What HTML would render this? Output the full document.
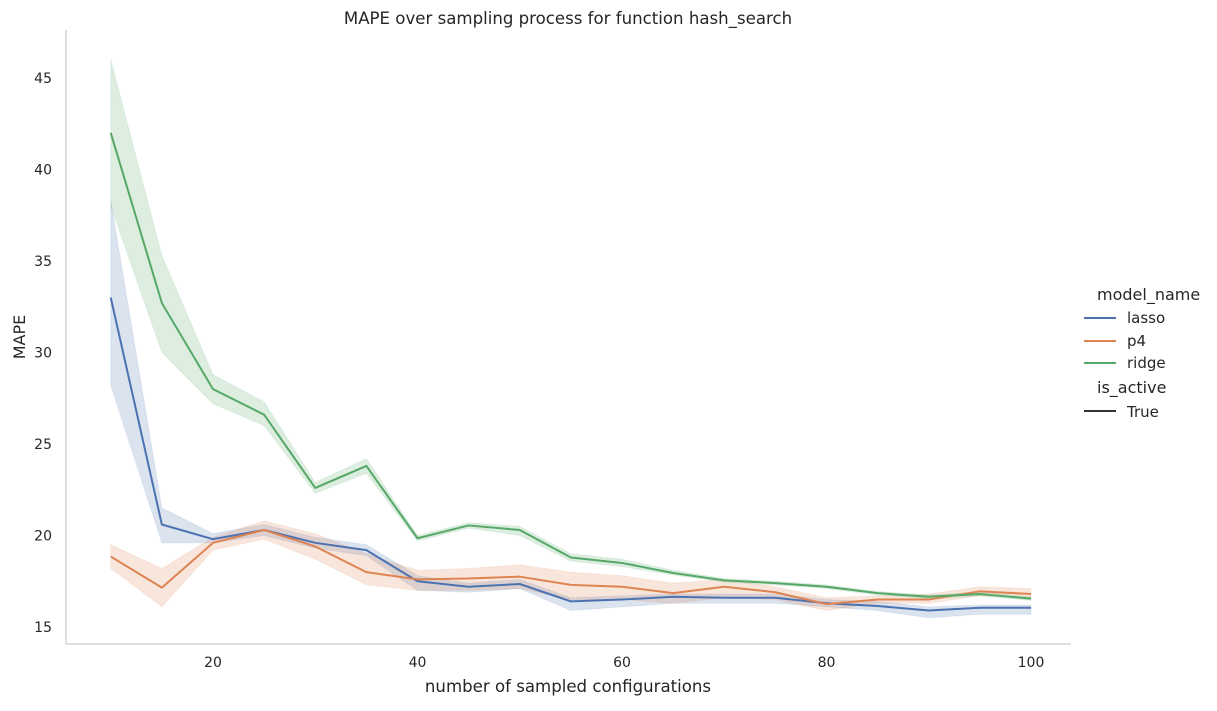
<!DOCTYPE html>
<html><head><meta charset="utf-8"><style>
body{margin:0;background:#fff;font-family:"Liberation Sans","DejaVu Sans",sans-serif;}
svg text{font-family:"DejaVu Sans","Liberation Sans",sans-serif;fill:#262626;}
</style></head><body>
<svg id="chart" width="1217" height="706">
<text x="568" y="24" text-anchor="middle" font-size="16.6">MAPE over sampling process for function hash_search</text>
<line x1="66" y1="30" x2="66" y2="644" stroke="#cccccc" stroke-width="1.3"/>
<line x1="66" y1="644" x2="1071" y2="644" stroke="#cccccc" stroke-width="1.3"/>
<g id="yticks"></g><g id="xticks"></g><g id="bands"></g><g id="lines"></g>
<text x="568" y="692" text-anchor="middle" font-size="16.6">number of sampled configurations</text>
<text transform="translate(25,337) rotate(-90)" text-anchor="middle" font-size="16">MAPE</text>
<g font-size="15">
<text x="1097" y="300" font-size="16">model_name</text>
<line x1="1084" y1="318" x2="1116" y2="318" stroke="#4c72b0" stroke-width="2"/>
<text x="1127" y="323">lasso</text>
<line x1="1084" y1="341" x2="1116" y2="341" stroke="#dd8452" stroke-width="2"/>
<text x="1127" y="346">p4</text>
<line x1="1084" y1="363" x2="1116" y2="363" stroke="#55a868" stroke-width="2"/>
<text x="1127" y="368">ridge</text>
<text x="1097" y="393" font-size="16">is_active</text>
<line x1="1084" y1="411" x2="1116" y2="411" stroke="#333" stroke-width="2"/>
<text x="1127" y="417">True</text>
</g>
</svg>
<script>
const xs=[10,15,20,25,30,35,40,45,50,55,60,65,70,75,80,85,90,95,100];
const xTickVals=[20,40,60,80,100];
const yTickVals=[15,20,25,30,35,40,45];
const lassoMean=[33.0,20.6,19.8,20.3,19.6,19.2,17.5,17.2,17.35,16.4,16.5,16.65,16.6,16.6,16.3,16.15,15.9,16.05,16.05];
const lassoLo=[28.2,19.6,19.6,20.0,19.3,18.9,17.0,16.9,17.1,15.9,16.1,16.3,16.3,16.3,16.1,15.9,15.5,15.7,15.7];
const lassoHi=[38.3,21.5,20.1,20.6,19.9,19.5,17.8,17.4,17.6,16.6,16.7,16.8,16.8,16.8,16.5,16.4,16.1,16.2,16.2];
const p4Mean=[18.85,17.15,19.6,20.3,19.4,18.0,17.6,17.65,17.75,17.3,17.2,16.85,17.2,16.9,16.25,16.5,16.5,16.95,16.8];
const p4Lo=[18.2,16.1,19.2,19.8,18.7,17.3,17.0,17.0,17.1,16.5,16.5,16.3,16.6,16.5,15.9,16.3,16.3,16.7,16.6];
const p4Hi=[19.5,18.2,19.9,20.8,20.1,19.0,18.1,18.2,18.4,18.0,17.8,17.4,17.6,17.2,16.6,16.7,16.8,17.2,17.1];
const ridgeMean=[42.0,32.7,28.0,26.6,22.6,23.8,19.85,20.55,20.3,18.8,18.5,17.95,17.55,17.4,17.2,16.85,16.65,16.8,16.55];
const ridgeLo=[38.0,30.0,27.2,26.0,22.3,23.4,19.7,20.4,20.0,18.6,18.3,17.85,17.45,17.3,17.1,16.75,16.55,16.7,16.45];
const ridgeHi=[46.0,35.3,28.8,27.3,22.9,24.2,20.0,20.7,20.5,19.0,18.7,18.1,17.65,17.5,17.3,16.95,16.75,16.9,16.65];
const NS='http://www.w3.org/2000/svg';
function X(v){return 213+(v-20)*(1031-213)/80;}
function Y(v){return 627-(v-15)*(627-78)/30;}
function mk(t,a,p){const e=document.createElementNS(NS,t);for(const k in a)e.setAttribute(k,a[k]);document.getElementById(p).appendChild(e);return e;}
yTickVals.forEach(v=>{const t=mk('text',{x:52,y:Y(v)+5,'text-anchor':'end','font-size':'14'},'yticks');t.textContent=v;

});
xTickVals.forEach(v=>{const t=mk('text',{x:X(v),y:667,'text-anchor':'middle','font-size':'14'},'xticks');t.textContent=v;

});
const series=[['lasso','#4c72b0',lassoMean,lassoLo,lassoHi],['p4','#dd8452',p4Mean,p4Lo,p4Hi],['ridge','#55a868',ridgeMean,ridgeLo,ridgeHi]];
series.forEach(([n,c,m,lo,hi])=>{
 let d=xs.map((x,i)=>(i?'L':'M')+X(x)+','+Y(hi[i])).join('')+xs.slice().reverse().map((x,j)=>{const i=xs.length-1-j;return 'L'+X(x)+','+Y(lo[i]);}).join('')+'Z';
 const b=mk('path',{d:d,fill:c,'fill-opacity':0.2,stroke:c,'stroke-opacity':0.1},'bands');
 
 
});
series.forEach(([n,c,m])=>{
 const l=mk('path',{d:xs.map((x,i)=>(i?'L':'M')+X(x)+','+Y(m[i])).join(''),fill:'none',stroke:c,'stroke-width':2,'stroke-linejoin':'round'},'lines');
 
 
});
</script>
</body></html>
